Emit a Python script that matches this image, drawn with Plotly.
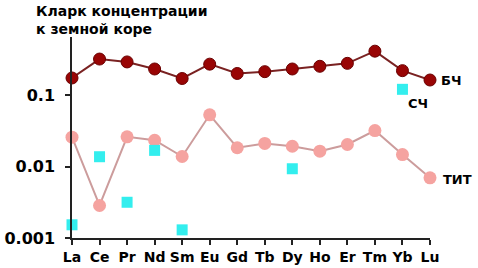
import plotly.graph_objects as go
import numpy as np

elements = ["La", "Ce", "Pr", "Nd", "Sm", "Eu", "Gd", "Tb", "Dy", "Ho", "Er", "Tm", "Yb", "Lu"]
bch = [0.173, 0.318, 0.29, 0.231, 0.17, 0.27, 0.20, 0.212, 0.231, 0.252, 0.277, 0.41, 0.219, 0.162]
tit = [0.0257, 0.00285, 0.026, 0.0233, 0.0138, 0.0528, 0.0183, 0.021, 0.0192, 0.0164, 0.0203, 0.0318, 0.0147, 0.00695]
sch = [0.00153, 0.0137, 0.00316, 0.0168, 0.0013, None, None, None, 0.0093, None, None, None, 0.12, None]
ytick_vals = [0.001, 0.01, 0.1]
ytick_text = ["0.001", "0.01", "0.1"]

xi = list(range(len(elements)))
FONT = "DejaVu Sans"

fig = go.Figure()
fig.add_trace(go.Scatter(x=xi, y=tit, mode="lines+markers",
                         line=dict(color="#cc9c9c", width=2),
                         marker=dict(color="#f5a3a0", size=13), cliponaxis=False))
fig.add_trace(go.Scatter(x=xi, y=bch, mode="lines+markers",
                         line=dict(color="#7a2222", width=2),
                         marker=dict(color="#990505", size=12, line=dict(color="#6a0000", width=1)),
                         cliponaxis=False))
fig.add_trace(go.Scatter(x=xi, y=sch, mode="markers",
                         marker=dict(color="#33eeee", size=11, symbol="square"), cliponaxis=False))

fig.add_annotation(x=13, y=np.log10(bch[13]), xref="x", yref="y", text="<b>БЧ</b>",
                   showarrow=False, xanchor="left", xshift=9, font=dict(family=FONT, size=13, color="black"))
fig.add_annotation(x=12, y=np.log10(sch[12]), xref="x", yref="y", text="<b>СЧ</b>",
                   showarrow=False, xanchor="left", xshift=4, yshift=-14, font=dict(family=FONT, size=13, color="black"))
fig.add_annotation(x=13, y=np.log10(tit[13]), xref="x", yref="y", text="<b>ТИТ</b>",
                   showarrow=False, xanchor="left", xshift=11, yshift=-2, font=dict(family=FONT, size=13, color="black"))
fig.add_annotation(x=-38 / 358, y=1 + 36 / 201, xref="paper", yref="paper",
                   text="<b>Кларк концентрации<br>к земной коре</b>", showarrow=False,
                   xanchor="left", yanchor="top", align="left",
                   font=dict(family=FONT, size=14, color="black"))

fig.update_layout(
    width=478, height=268,
    margin=dict(l=72, r=48, t=37, b=30),
    paper_bgcolor="white", plot_bgcolor="white",
    showlegend=False,
    xaxis=dict(range=[0, 13], tickmode="array", tickvals=xi, ticktext=[f"<b>{e}</b>" for e in elements],
               showgrid=False, zeroline=False, showline=True, linecolor="#222222", linewidth=1.5,
               ticks="outside", ticklen=5, tickcolor="#222222", tickwidth=1.5, automargin=False,
               tickfont=dict(family=FONT, size=14, color="black")),
    yaxis=dict(type="log", range=[-3, -0.189], tickmode="array", tickvals=ytick_vals,
               ticktext=[f"<b>{t}</b>" for t in ytick_text], automargin=False,
               showgrid=False, zeroline=False, showline=True, linecolor="#222222", linewidth=1.5,
               ticks="outside", ticklen=5, tickcolor="#222222", tickwidth=1.5, ticklabelstandoff=7,
               tickfont=dict(family=FONT, size=16, color="black")),
)
fig.write_html("out.html", config={"displayModeBar": False},
               post_script="document.body.style.margin='0';")
